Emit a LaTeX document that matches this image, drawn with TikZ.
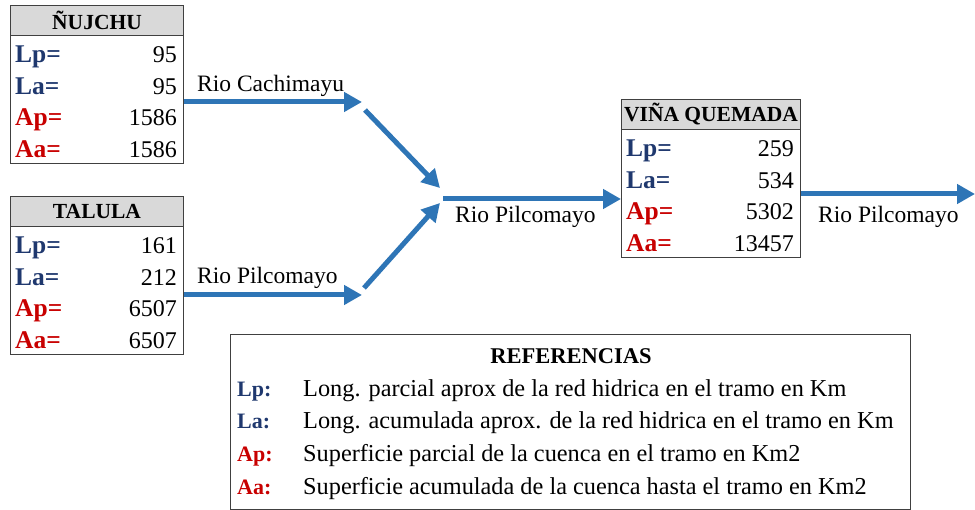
\documentclass[tikz,border=0pt]{standalone}
\usepackage{fontspec}
\setmainfont{Liberation Serif}
\usetikzlibrary{arrows.meta,positioning}

\definecolor{rioazul}{RGB}{46,117,182}
\definecolor{azulL}{RGB}{31,56,110}
\definecolor{rojoA}{RGB}{200,0,0}
\definecolor{gristit}{RGB}{217,217,217}

\tikzset{
  caja/.style={draw=black!75,line width=1pt,minimum height=158pt,inner sep=0pt},
  cabeza/.style={draw=black!75,fill=gristit,line width=1pt,minimum height=30pt,inner sep=0pt,
    font=\fontsize{21.5}{21.5}\selectfont\bfseries},
  etq/.style={anchor=base west,inner sep=0pt,font=\fontsize{25.5}{25.5}\selectfont\bfseries},
  val/.style={anchor=base east,inner sep=0pt,font=\fontsize{24}{24}\selectfont},
  rio/.style={draw=rioazul,line width=5pt,-{Triangle[length=18pt,width=19pt]}},
  nomrio/.style={anchor=base west,inner sep=0pt,font=\fontsize{23.5}{24}\selectfont},
  refetq/.style={anchor=base west,inner sep=0pt,font=\fontsize{22}{22}\selectfont\bfseries},
  reftxt/.style={anchor=base west,inner sep=0pt,font=\fontsize{24.3}{24.3}\selectfont},
}

% estacion: nombre, x, y (esquina sup. izq.), ancho, titulo, Lp, La, Ap, Aa
\newcommand{\estacion}[9]{%
  \begin{scope}[shift={(#2,#3)}]
    \node[caja,minimum width=#4pt,anchor=north west] (#1) at (0,0) {};
    \node[cabeza,minimum width=#4pt,anchor=north west] (#1-tit) at (0,0) {#5};
    \node[etq,text=azulL] (#1-lp) at (5,58) {Lp=};
    \node[etq,text=azulL] (#1-la) at (5,89.5) {La=};
    \node[etq,text=rojoA] (#1-ap) at (5,121) {Ap=};
    \node[etq,text=rojoA] (#1-aa) at (5,152.5) {Aa=};
    \node[val] (#1-vlp) at (#4-6,58) {#6};
    \node[val] (#1-vla) at (#4-6,89.5) {#7};
    \node[val] (#1-vap) at (#4-6,121) {#8};
    \node[val] (#1-vaa) at (#4-6,152.5) {#9};
  \end{scope}}

\begin{document}
\begin{tikzpicture}[x=1pt,y=-1pt,line cap=butt,line join=miter]
\path[use as bounding box] (0,0) rectangle (975,510);

% estaciones
\estacion{nujchu}{10}{5}{173}{ÑUJCHU}{95}{95}{1586}{1586}
\estacion{talula}{10}{196}{173}{TALULA}{161}{212}{6507}{6507}
\estacion{vina}{621}{99}{179}{VIÑA QUEMADA}{259}{534}{5302}{13457}

% rios
\coordinate (c1) at (362,102);
\coordinate (c2) at (362,295);
\coordinate (d1) at (365,110);
\coordinate (d2) at (364,288);
\coordinate (j1) at (440,188);
\coordinate (j2) at (440,203);
\coordinate (j0) at (443,199);
\coordinate (fin) at (975,194);
\draw[rio] (nujchu.east |- c1) -- (c1);
\draw[rio] (talula.east |- c2) -- (c2);
\draw[rio] (d1) -- (j1);
\draw[rio] (d2) -- (j2);
\draw[rio] (j0) -- (vina.west |- j0);
\draw[rio] (vina.east |- fin) -- (fin);
\node[nomrio] (lcach) at (197,92) {Rio Cachimayu};
\node[nomrio] (lpil1) at (197,284) {Rio Pilcomayo};
\node[nomrio] (lpil2) at (455,223) {Rio Pilcomayo};
\node[nomrio] (lpil3) at (818,223) {Rio Pilcomayo};

% referencias
\node[draw=black!75,line width=1pt,minimum width=680pt,minimum height=175pt,inner sep=0pt,anchor=north west] (ref) at (230,334) {};
\node[anchor=base,inner sep=0pt,font=\fontsize{22.5}{22.5}\selectfont\bfseries] (reftit) at (571,364) {REFERENCIAS};
\node[refetq,text=azulL] (rlp) at (237,397) {Lp:};
\node[refetq,text=azulL] (rla) at (237,429) {La:};
\node[refetq,text=rojoA] (rap) at (237,462) {Ap:};
\node[refetq,text=rojoA] (raa) at (237,494) {Aa:};
\node[reftxt] (tlp) at (303,397) {Long. parcial aprox de la red hidrica en el tramo en Km};
\node[reftxt] (tla) at (303,429) {Long. acumulada aprox. de la red hidrica en el tramo en Km};
\node[reftxt] (tap) at (303,462) {Superficie parcial de la cuenca en el tramo en Km2};
\node[reftxt] (taa) at (303,494) {Superficie acumulada de la cuenca hasta el tramo en Km2};
\end{tikzpicture}
\end{document}
